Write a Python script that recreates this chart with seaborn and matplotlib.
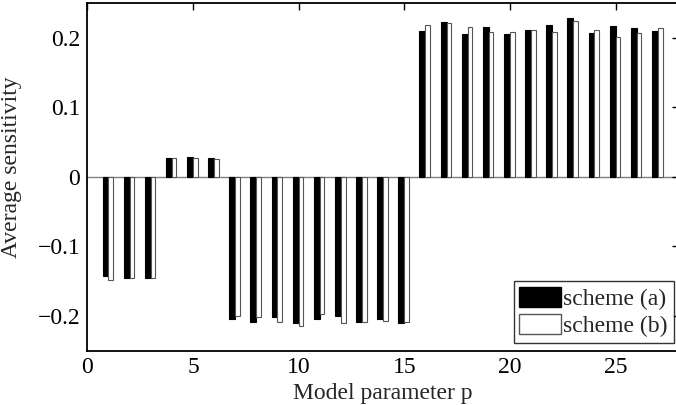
import numpy as np
import pandas as pd
import matplotlib
matplotlib.use("Agg")
import matplotlib.pyplot as plt
import seaborn as sns
from matplotlib.patches import Patch

params = list(range(1, 28))
scheme_a = [-0.143, -0.145, -0.145, 0.027, 0.028, 0.027,
            -0.205, -0.209, -0.202, -0.210, -0.204, -0.201, -0.209,
            -0.204, -0.211,
            0.210, 0.223, 0.206, 0.216, 0.206, 0.211, 0.219, 0.229,
            0.207, 0.218, 0.214, 0.210]
scheme_b = [-0.149, -0.146, -0.145, 0.027, 0.027, 0.026,
            -0.200, -0.202, -0.209, -0.214, -0.197, -0.211, -0.209,
            -0.207, -0.209,
            0.219, 0.221, 0.216, 0.208, 0.208, 0.212, 0.209, 0.224,
            0.211, 0.201, 0.207, 0.215]
series_names = ["scheme (a)", "scheme (b)"]
xticks = [0, 5, 10, 15, 20, 25]
yticks = [-0.2, -0.1, 0, 0.1, 0.2]
ytick_labels = ["\u22120.2", "\u22120.1", "0", "0.1", "0.2"]

df = pd.DataFrame({
    "p": params * 2,
    "value": scheme_a + scheme_b,
    "scheme": [series_names[0]] * len(params) + [series_names[1]] * len(params),
})

sns.set_style("white")
plt.rcParams["font.family"] = ["Liberation Serif", "DejaVu Serif"]

FS = 17

fig = plt.figure(figsize=(6.76, 4.05), dpi=100)
ax_w = (679 - 87.3)
ax_h = (350.5 - 3.3)
ax = fig.add_axes([87.3 / 676, 54.5 / 405, ax_w / 676, ax_h / 405])

ax.axhline(0, color="#808080", lw=1.0, zorder=0)
sns.barplot(data=df, x="p", y="value", hue="scheme", native_scale=True,
            dodge=True, width=0.56, errorbar=None,
            palette={series_names[0]: "black", series_names[1]: "white"},
            edgecolor="black", linewidth=0.8, ax=ax, legend=False, zorder=2)

for bar in ax.containers[1]:
    bar.set_edgecolor("#555555")
    bar.set_width(0.22)

ax.set_xlim(0, 28)
ax.set_ylim(-0.25, 0.25)
ax.set_xticks(xticks)
ax.set_xticklabels([str(t) for t in xticks])
ax.set_yticks(yticks)
ax.set_yticklabels(ytick_labels)
ax.tick_params(axis="both", direction="in", length=5, width=1, labelsize=FS,
               top=True, right=True, colors="black", pad=5)
for s in ax.spines.values():
    s.set_visible(True)
    s.set_color("black")
    s.set_linewidth(1.3)

ax.set_xlabel("Model parameter p", fontsize=FS, labelpad=3)
ax.set_ylabel("Average sensitivity", fontsize=FS)
ax.yaxis.set_label_coords((22 - 87.3) / ax_w, (350.5 - 167.5) / ax_h)

handles = [Patch(facecolor="black", edgecolor="black"),
           Patch(facecolor="white", edgecolor="#555555")]
leg = ax.legend(handles, series_names, loc="lower right", fontsize=FS,
                frameon=True, fancybox=False, handlelength=1.75, handleheight=0.95,
                handletextpad=0.1, borderpad=0.25, labelspacing=0.15,
                borderaxespad=0.0,
                bbox_to_anchor=((673.5 - 87.3) / ax_w, 7.5 / ax_h))
leg.get_frame().set_edgecolor("black")
leg.get_frame().set_linewidth(1.0)

fig.savefig("out.png", dpi=100)
